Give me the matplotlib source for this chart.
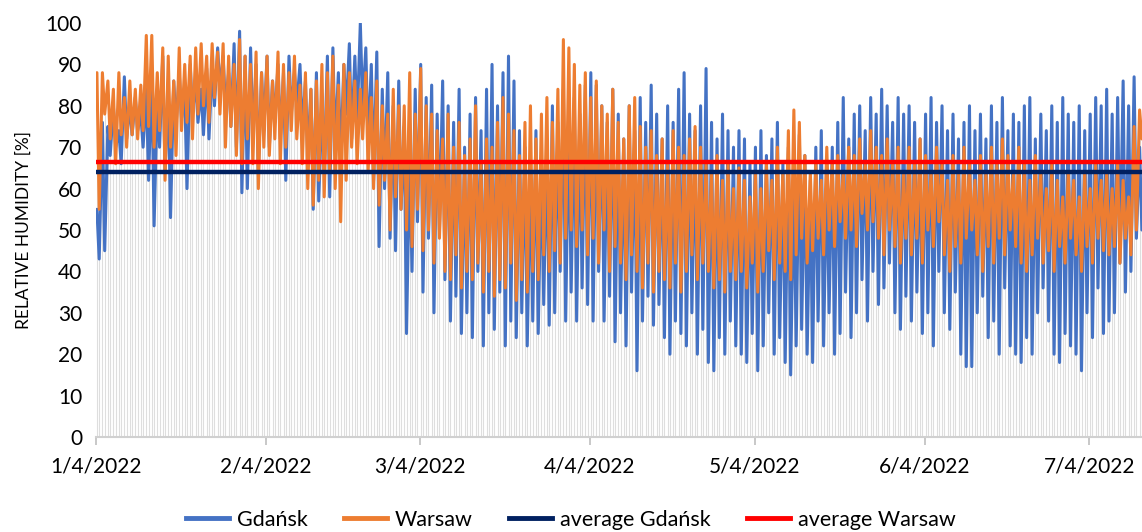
import matplotlib
matplotlib.use("Agg")
import numpy as np
import matplotlib.pyplot as plt
import matplotlib.dates as mdates
from matplotlib.lines import Line2D

plt.rcParams['font.family'] = ['Lato', 'DejaVu Sans']

# ---- data: alternating (night high, afternoon low) relative humidity per day ----
month_starts = ["2022-01-04", "2022-02-01", "2022-03-01", "2022-04-01",
                "2022-05-01", "2022-06-01", "2022-07-01"]

gdansk_jan = [55,43, 76,45, 75,68, 80,70, 74,66, 87,72, 80,73, 82,74, 78,70, 84,62,
              88,51, 82,70, 92,64, 84,53, 86,75, 88,77, 83,60, 90,78, 86,76, 84,73,
              89,72, 90,80, 94,84, 92,80, 88,75, 95,70, 98,59, 92,60]
gdansk_feb = [94,72, 90,64, 88,74, 92,70, 86,76, 90,72, 88,62, 92,78, 88,80, 90,74,
              86,68, 84,55, 88,57, 80,64, 92,58, 94,70, 88,66, 90,78, 95,72, 92,76,
              100,80, 94,70, 90,62, 93,46, 84,60, 88,48, 80,45, 86,55]
gdansk_mar = [75,25, 68,40, 84,52, 90,35, 82,48, 85,30, 78,50, 86,38, 80,28, 76,34,
              84,25, 70,30, 78,24, 82,40, 74,22, 84,30, 90,26, 80,35, 88,22, 92,28,
              86,24, 74,30, 70,22, 66,28, 74,25, 68,32, 72,27, 80,30, 76,40, 84,28, 78,35]
gdansk_apr = [82,28, 78,36, 85,32, 88,28, 85,40, 80,28, 76,34, 84,23, 78,30, 72,22,
              80,35, 74,16, 82,28, 76,34, 85,27, 78,32, 72,24, 80,20, 76,28, 84,25,
              88,22, 78,30, 74,20, 80,26, 89,18, 76,16, 72,24, 78,20, 74,28, 70,22]
gdansk_may = [74,20, 72,18, 66,25, 70,16, 74,22, 68,30, 72,20, 76,24, 66,18, 70,15,
              64,22, 73,26, 68,20, 62,18, 70,28, 74,22, 66,30, 70,20, 76,25, 82,35,
              72,24, 78,30, 80,38, 74,28, 82,40, 78,32, 84,36, 80,42, 76,30, 82,26, 78,34]
gdansk_jun = [80,28, 76,35, 72,25, 78,30, 82,22, 76,40, 80,30, 74,26, 78,35, 72,20,
              76,17, 80,17, 74,30, 78,34, 72,24, 80,28, 76,20, 82,36, 74,22, 78,20,
              76,18, 80,24, 82,20, 72,30, 78,36, 74,28, 80,20, 76,18, 82,25, 78,22]
gdansk_jul = [76,20, 80,16, 74,30, 78,24, 82,36, 80,25, 84,28, 78,30, 82,42, 86,35,
              80,40, 87,48, 70,50]

warsaw_jan = [88,55, 88,78, 86,72, 84,66, 88,73, 82,70, 86,73, 84,72, 85,74, 97,75,
              97,70, 88,74, 94,62, 92,70, 86,68, 94,74, 90,76, 92,72, 94,78, 95,80,
              92,76, 95,82, 93,78, 95,70, 92,75, 90,68, 96,66, 92,72]
warsaw_feb = [90,66, 93,60, 88,70, 92,68, 86,72, 93,66, 90,70, 88,74, 92,72, 85,66,
              88,60, 84,56, 86,62, 90,58, 88,64, 92,60, 85,52, 90,62, 88,70, 86,66,
              84,72, 88,64, 82,60, 86,56, 80,62, 78,50, 84,58, 80,55]
warsaw_mar = [80,50, 88,46, 78,55, 89,45, 80,50, 78,42, 74,48, 72,40, 78,38, 70,44,
              76,36, 68,40, 72,38, 80,42, 66,35, 72,40, 70,34, 76,38, 82,36, 78,42,
              74,33, 68,38, 76,35, 80,40, 72,38, 78,44, 82,40, 76,45, 84,42, 96,48, 94,50]
warsaw_apr = [90,46, 85,50, 88,44, 82,48, 86,42, 80,50, 78,40, 84,46, 76,42, 72,38,
              80,44, 82,40, 75,36, 70,42, 74,35, 68,40, 72,38, 66,36, 74,42, 70,35,
              68,40, 72,44, 75,38, 70,42, 66,40, 64,36, 68,38, 62,35, 66,40, 60,38]
warsaw_may = [65,40, 62,36, 58,42, 64,35, 60,40, 66,45, 62,38, 70,42, 64,40, 74,38,
              79,44, 76,48, 68,42, 64,45, 66,48, 62,44, 70,50, 66,46, 68,52, 64,48,
              70,50, 68,46, 72,54, 66,50, 74,52, 70,48, 68,44, 72,50, 66,46, 70,42, 64,48]
warsaw_jun = [70,44, 66,48, 72,42, 68,50, 64,46, 70,52, 66,44, 62,40, 68,46, 64,42,
              70,48, 66,50, 62,44, 68,40, 64,46, 70,42, 66,48, 72,44, 68,50, 64,46,
              70,42, 66,40, 62,44, 68,48, 64,42, 60,45, 66,40, 62,46, 58,42, 64,48]
warsaw_jul = [62,44, 58,40, 64,46, 60,42, 66,48, 62,45, 64,44, 60,46, 66,42, 62,48,
              58,44, 75,50, 79,72]

avg_gdansk = 64.0
avg_warsaw = 66.5

tick_dates = ["2022-01-04", "2022-02-04", "2022-03-04", "2022-04-04",
              "2022-05-04", "2022-06-04", "2022-07-04"]
tick_labels = ["1/4/2022", "2/4/2022", "3/4/2022", "4/4/2022",
               "5/4/2022", "6/4/2022", "7/4/2022"]
y_ticks = [0, 10, 20, 30, 40, 50, 60, 70, 80, 90, 100]

# ---- build time axis ----
def build(chunks):
    times, vals = [], []
    for start, chunk in zip(month_starts, chunks):
        base = np.datetime64(start + "T00:00")
        for i in range(len(chunk) // 2):
            day = base + np.timedelta64(i, 'D')
            times += [day + np.timedelta64(4, 'h'), day + np.timedelta64(14, 'h')]
            vals += [chunk[2 * i], chunk[2 * i + 1]]
    return mdates.date2num(np.array(times)), np.array(vals, dtype=float)

tg, g = build([gdansk_jan, gdansk_feb, gdansk_mar, gdansk_apr, gdansk_may, gdansk_jun, gdansk_jul])
tw, w = build([warsaw_jan, warsaw_feb, warsaw_mar, warsaw_apr, warsaw_may, warsaw_jun, warsaw_jul])
n = min(len(g), len(w))

fig = plt.figure(figsize=(11.42, 5.32), dpi=100)
ax = fig.add_axes([96 / 1142, 1 - 437 / 532, (1142 - 96) / 1142, (437 - 23) / 532])

xmin = mdates.date2num(np.datetime64("2022-01-04T00:00"))
xmax = mdates.date2num(np.datetime64("2022-07-13T14:30"))

# drop lines
ax.vlines(tg[:n], 0, np.maximum(g[:n], w[:n]), color='#DEDEDE', lw=0.8, zorder=1)

ax.plot(tg, g, color='#4472C4', lw=2.2, zorder=3, solid_joinstyle='round', solid_capstyle='round')
ax.plot(tw, w, color='#ED7D31', lw=2.2, zorder=4, solid_joinstyle='round', solid_capstyle='round')
ax.plot([xmin, xmax], [avg_gdansk, avg_gdansk], color='#002060', lw=3.2, zorder=5)
ax.plot([xmin, xmax], [avg_warsaw, avg_warsaw], color='#FF0000', lw=3.2, zorder=6)

ax.set_xlim(xmin, xmax)
ax.set_ylim(0, 100)
ax.set_yticks(y_ticks)
ax.set_yticklabels([str(v) for v in y_ticks], fontsize=15)
ax.set_xticks(mdates.date2num(np.array(tick_dates, dtype='datetime64[D]')))
ax.set_xticklabels(tick_labels, fontsize=15)
ax.tick_params(axis='y', length=0, pad=10)
ax.tick_params(axis='x', length=6, width=1.2, color='#BFBFBF', pad=8, direction='out')
for s in ['top', 'right', 'left']:
    ax.spines[s].set_visible(False)
ax.spines['bottom'].set_color('#D0D0D0')
ax.spines['bottom'].set_linewidth(1.5)
ax.set_ylabel("RELATIVE HUMIDITY [%]", fontsize=12.5, labelpad=10)

handles = [Line2D([], [], color='#4472C4', lw=3.5),
           Line2D([], [], color='#ED7D31', lw=3.5),
           Line2D([], [], color='#002060', lw=3.5),
           Line2D([], [], color='#FF0000', lw=3.5)]
fig.legend(handles, ["Gdańsk", "Warsaw", "average Gdańsk", "average Warsaw"],
           loc='center', bbox_to_anchor=(0.5, 1 - 520 / 532), ncol=4, frameon=False,
           fontsize=15.5, handlelength=2.0, handletextpad=0.35, columnspacing=1.7)

fig.savefig("out.png", dpi=100)
